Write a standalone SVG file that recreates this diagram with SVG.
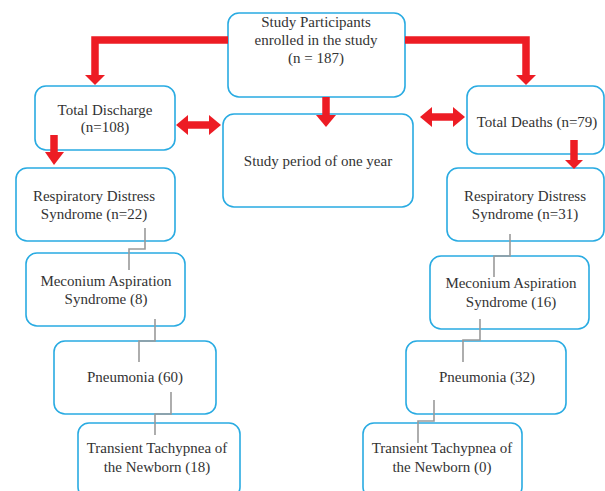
<svg xmlns="http://www.w3.org/2000/svg" width="605" height="491" viewBox="0 0 605 491">
<defs>
<style>
.box{fill:#fff;stroke:#29abe2;stroke-width:1.6}
text{font-family:'Liberation Serif','Times New Roman','DejaVu Serif',serif;font-size:15px;fill:#333;text-anchor:middle}
.red{fill:#ed1c24}
.redl{fill:none;stroke:#ed1c24;stroke-width:7.5}
.gray{fill:none;stroke:#9a9a9a;stroke-width:1.6}
</style>
</defs>
<rect width="605" height="491" fill="#fff"/>
<g id="participants">
<rect class="box" x="228" y="13" width="177" height="84" rx="11"/>
<text x="316" y="27">Study Participants</text>
<text x="316" y="45">enrolled in the study</text>
<text x="316" y="63">(n = 187)</text>
</g>
<g id="discharge">
<rect class="box" x="35" y="86" width="140" height="64" rx="11"/>
<text x="105" y="115">Total Discharge</text>
<text x="105" y="132">(n=108)</text>
</g>
<g id="period">
<rect class="box" x="223" y="114" width="190" height="93" rx="11"/>
<text x="318" y="166">Study period of one year</text>
</g>
<g id="deaths">
<rect class="box" x="467" y="86" width="137" height="68" rx="11"/>
<text x="537" y="127">Total Deaths (n=79)</text>
</g>
<g id="rds-left">
<rect class="box" x="16" y="168" width="159" height="73" rx="11"/>
<text x="94" y="201">Respiratory Distress</text>
<text x="94" y="219">Syndrome (n=22)</text>
</g>
<g id="rds-right">
<rect class="box" x="447" y="168" width="157" height="73" rx="11"/>
<text x="525" y="201">Respiratory Distress</text>
<text x="525" y="219">Syndrome (n=31)</text>
</g>
<g id="mas-left">
<rect class="box" x="26" y="253" width="159" height="73" rx="11"/>
<text x="106" y="286">Meconium Aspiration</text>
<text x="106" y="304">Syndrome (8)</text>
</g>
<g id="mas-right">
<rect class="box" x="430" y="256" width="159" height="73" rx="11"/>
<text x="511" y="288">Meconium Aspiration</text>
<text x="511" y="307">Syndrome (16)</text>
</g>
<g id="pneu-left">
<rect class="box" x="54" y="341" width="162" height="73" rx="11"/>
<text x="135" y="382">Pneumonia (60)</text>
</g>
<g id="pneu-right">
<rect class="box" x="406" y="341" width="160" height="73" rx="11"/>
<text x="487" y="382">Pneumonia (32)</text>
</g>
<g id="ttn-left">
<rect class="box" x="78" y="423" width="162" height="75" rx="11"/>
<text x="157" y="453">Transient Tachypnea of</text>
<text x="157" y="472">the Newborn (18)</text>
</g>
<g id="ttn-right">
<rect class="box" x="363" y="423" width="159" height="75" rx="11"/>
<text x="442" y="453">Transient Tachypnea of</text>
<text x="442" y="472">the Newborn (0)</text>
</g>
<g id="connectors">
<path class="redl" d="M228 40 H95 V76"/>
<polygon class="red" points="85,75 105,75 95,85"/>
<path class="redl" d="M405 40 H526 V76"/>
<polygon class="red" points="516,75 536,75 526,85"/>
<path class="redl" d="M326 97 V116"/>
<polygon class="red" points="316,115 336,115 326,127"/>
<path class="redl" d="M186 125 H211"/>
<polygon class="red" points="176,125 188,115 188,135"/>
<polygon class="red" points="221,125 209,115 209,135"/>
<path class="redl" d="M430 117 H455"/>
<polygon class="red" points="420,117 432,107 432,127"/>
<polygon class="red" points="465,117 453,107 453,127"/>
<path class="redl" d="M54 135 V153"/>
<polygon class="red" points="45,152 64,152 54,165"/>
<path class="redl" d="M574 140 V161"/>
<polygon class="red" points="565,160 583,160 574,169"/>
<path class="gray" d="M145 228 V249 H129 V270"/>
<path class="gray" d="M155 319 V341 H139 V362"/>
<path class="gray" d="M171 392 V414 H155 V435"/>
<path class="gray" d="M510 234 V256 H494 V277"/>
<path class="gray" d="M480 319 V340 H463 V362"/>
<path class="gray" d="M434 400 V421 H418 V443"/>
</g>
</svg>
